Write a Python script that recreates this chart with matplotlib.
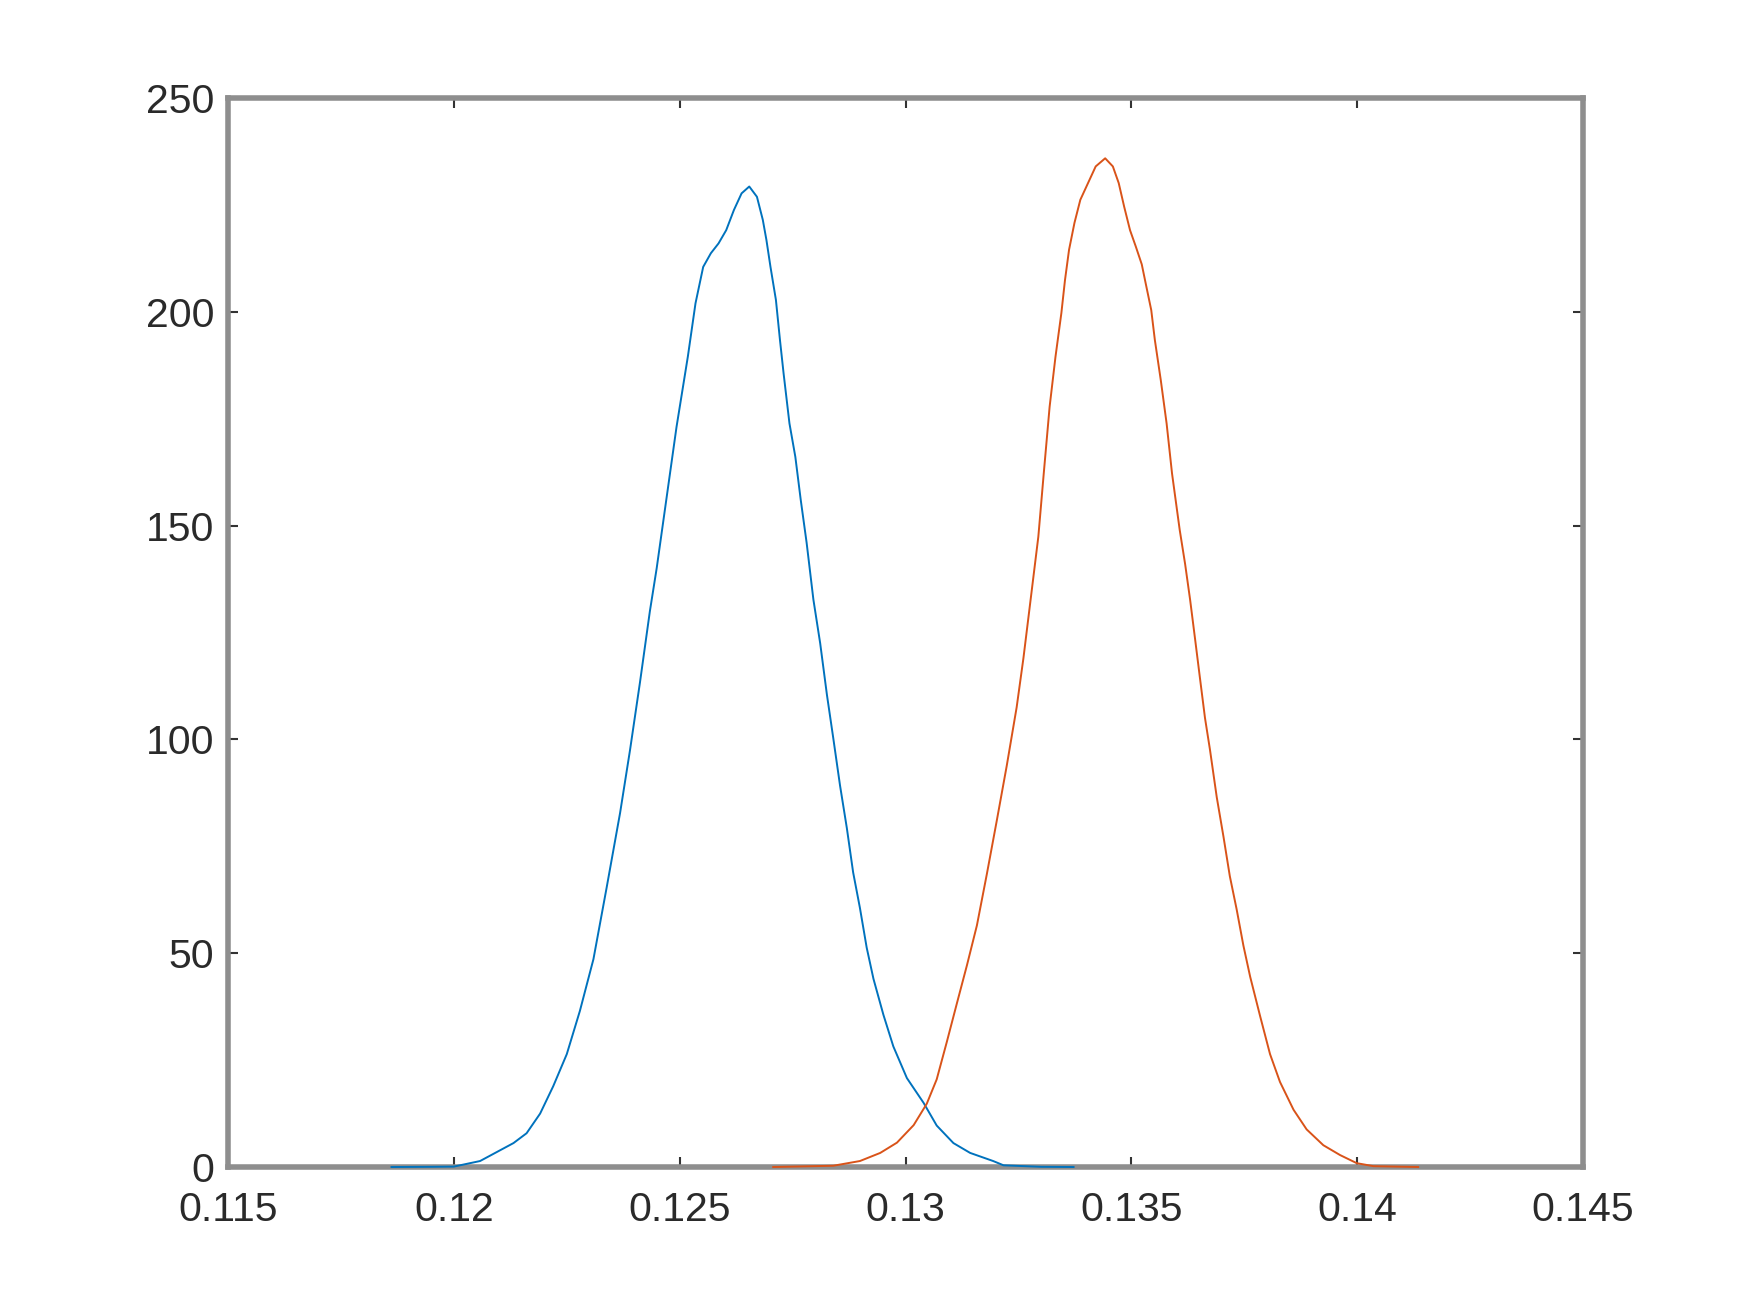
import matplotlib
matplotlib.use("Agg")
import matplotlib.pyplot as plt

blue_x = [0.11862, 0.1195, 0.1200, 0.12058, 0.12132, 0.12161, 0.12191, 0.12220, 0.12250,
          0.12279, 0.12309, 0.12338, 0.12368, 0.12390, 0.12412, 0.12434, 0.12449, 0.12493,
          0.12518, 0.12535, 0.12552, 0.12569, 0.12586, 0.12603, 0.12620, 0.12637, 0.12654,
          0.12671, 0.12684, 0.12692, 0.12701, 0.12713, 0.12722, 0.12730, 0.12743, 0.12756,
          0.12768, 0.12781, 0.12796, 0.12811, 0.12826, 0.12840, 0.12855, 0.12870, 0.12884,
          0.12899, 0.12914, 0.12929, 0.12951, 0.12973, 0.13003, 0.13040, 0.13069, 0.13106,
          0.13143, 0.13194, 0.13217, 0.13300, 0.13372]
blue_y = [0.0, 0.05, 0.1, 1.4, 5.6, 7.9, 12.5, 18.9, 26.4,
          36.5, 48.6, 65.2, 82.8, 97.5, 113.3, 130.0, 140.0, 173.1,
          189.5, 202.0, 210.5, 213.7, 216.0, 219.1, 223.8, 227.7, 229.3,
          226.9, 221.5, 216.8, 210.5, 202.8, 193.4, 185.6, 173.9, 166.1,
          156.0, 146.0, 132.7, 122.5, 110.4, 100.3, 89.2, 79.3, 68.9,
          60.6, 51.3, 44.0, 35.6, 28.2, 20.8, 15.0, 9.7, 5.6,
          3.3, 1.4, 0.4, 0.05, 0.0]

orange_x = [0.12707, 0.12840, 0.12899, 0.12944, 0.12981, 0.13018, 0.13047, 0.13069, 0.13091,
            0.13114, 0.13136, 0.13158, 0.13180, 0.13202, 0.13224, 0.13246, 0.13261, 0.13276,
            0.13294, 0.13306, 0.13319, 0.13332, 0.13345, 0.13353, 0.13362, 0.13374, 0.13387,
            0.13404, 0.13421, 0.13442, 0.13459, 0.13472, 0.13484, 0.13497, 0.13510, 0.13523,
            0.13531, 0.13544, 0.13552, 0.13565, 0.13578, 0.13590, 0.13607, 0.13619, 0.13630,
            0.13641, 0.13652, 0.13663, 0.13674, 0.13689, 0.13704, 0.13718, 0.13733, 0.13748,
            0.13763, 0.13785, 0.13807, 0.13829, 0.13859, 0.13888, 0.13925, 0.13962, 0.13999,
            0.14036, 0.14135]
orange_y = [0.0, 0.3, 1.4, 3.3, 5.7, 9.8, 14.8, 20.5, 29.1,
            38.4, 47.2, 56.5, 68.5, 81.0, 93.8, 107.5, 119.0, 131.9,
            147.4, 162.2, 177.8, 189.5, 199.7, 207.4, 214.5, 220.8, 226.2,
            230.1, 234.0, 235.9, 234.0, 230.1, 224.6, 219.1, 215.2, 211.1,
            207.0, 200.4, 193.4, 184.1, 173.9, 162.2, 149.0, 141.0, 132.7,
            123.5, 114.2, 105.0, 97.6, 86.5, 77.2, 68.0, 60.3, 51.8,
            44.5, 35.3, 26.4, 19.9, 13.4, 8.8, 5.1, 2.8, 0.9,
            0.2, 0.0]

x_ticks = [0.115, 0.12, 0.125, 0.13, 0.135, 0.14, 0.145]
x_tick_labels = ["0.115", "0.12", "0.125", "0.13", "0.135", "0.14", "0.145"]
y_ticks = [0, 50, 100, 150, 200, 250]
y_tick_labels = ["0", "50", "100", "150", "200", "250"]

plt.rcParams['font.family'] = ['Liberation Sans', 'DejaVu Sans']

fig = plt.figure(figsize=(17.5, 13.12), dpi=100)
ax = fig.add_axes([0.1303, 0.1105, 0.7743, 0.8148])

ax.plot(blue_x, blue_y, color=(0.0, 0.447, 0.741), lw=1.4, zorder=3, clip_on=False)
ax.plot(orange_x, orange_y, color=(0.85, 0.325, 0.098), lw=1.4, zorder=3, clip_on=False)

ax.set_xlim(0.115, 0.145)
ax.set_ylim(0, 250)
ax.set_xticks(x_ticks)
ax.set_xticklabels(x_tick_labels)
ax.set_yticks(y_ticks)
ax.set_yticklabels(y_tick_labels)

for sp in ax.spines.values():
    sp.set_color('#8e8e8e')
    sp.set_linewidth(4.0)
    sp.set_zorder(2.5)

ax.tick_params(axis='both', which='major', direction='in', length=7, width=1.5,
               color='#333333', labelcolor='#2a2a2a', labelsize=29.5,
               top=True, right=True)
ax.tick_params(axis='x', pad=17)
ax.tick_params(axis='y', pad=10)

fig.savefig("out.png", dpi=100)
